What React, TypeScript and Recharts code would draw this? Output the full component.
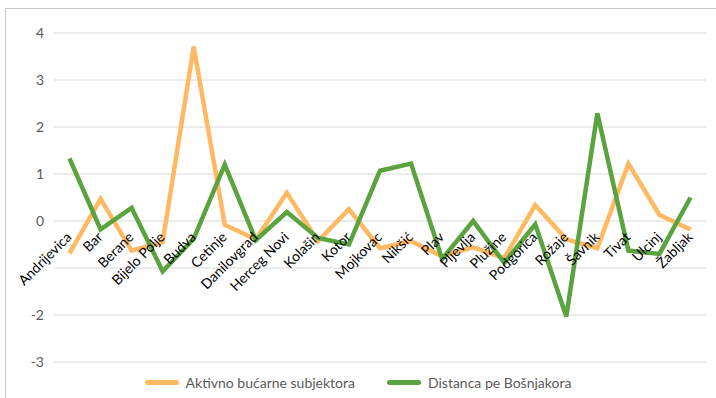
import { LineChart, Line, XAxis, YAxis, CartesianGrid } from 'recharts';

const categories = [
	'Andrijevica', 'Bar', 'Berane', 'Bijelo Polje', 'Budva', 'Cetinje', 'Danilovgrad',
	'Herceg Novi', 'Kolašin', 'Kotor', 'Mojkovac', 'Nikšić', 'Plav', 'Pljevlja',
	'Plužine', 'Podgorica', 'Rožaje', 'Šavnik', 'Tivat', 'Ulcinj', 'Žabljak',
];

const aktivno = [
	-0.69, 0.47, -0.63, -0.45, 3.71, -0.08, -0.39,
	0.6, -0.43, 0.25, -0.58, -0.43, -0.75, -0.56,
	-0.79, 0.34, -0.39, -0.58, 1.22, 0.13, -0.18,
];

const distanca = [
	1.33, -0.18, 0.28, -1.07, -0.38, 1.2, -0.41,
	0.19, -0.36, -0.5, 1.07, 1.22, -0.81, 0.0,
	-0.89, -0.07, -2.03, 2.29, -0.63, -0.7, 0.5,
];

const yTicks = [-3, -2, -1, 0, 1, 2, 3, 4];
const hiddenYLabels = [-1];

const seriesNames = ['Aktivno bućarne subjektora', 'Distanca pe Bošnjakora'];
const colors = ['#FFB963', '#5AA33E'];

const data = categories.map((name, i) => ({
	name,
	aktivno: aktivno[i],
	distanca: distanca[i],
}));

const W = 716;
const H = 398;
const margin = { top: 33, right: 10, bottom: 35, left: 0 };
const yMin = -3;
const yMax = 4;
const plotH = H - margin.top - margin.bottom - 1;
const zeroY = margin.top + (yMax / (yMax - yMin)) * plotH;

const font = 'Lato, "Open Sans", sans-serif';

const CategoryTick = (props: any) => {
	const { x, payload } = props;
	const px = x + 3;
	const py = zeroY + 17;
	return (
		<text
			x={px}
			y={py}
			transform={`rotate(-45, ${px}, ${py})`}
			textAnchor="end"
			fill="#000"
			fontSize={14}
			fontFamily={font}
		>
			{payload.value}
		</text>
	);
};

const ValueTick = (props: any) => {
	const { x, y, payload } = props;
	if (hiddenYLabels.includes(payload.value)) return <g />;
	return (
		<text x={x - 2} y={y} dy={5} textAnchor="end" fill="#595959" fontSize={14} fontFamily={font}>
			{payload.value}
		</text>
	);
};

export default function App() {
	return (
		<div style={{ position: 'fixed', left: 0, top: 0, width: W, height: H, overflow: 'hidden', background: '#fff' }}>
			<div style={{ position: 'absolute', left: 5, top: 8, width: 800, height: 500, borderLeft: '1px solid #c8c8c8', borderTop: '1px solid #c8c8c8' }} />
			<div style={{ position: 'absolute', left: 0, top: 0 }}>
				<LineChart width={W} height={H} data={data} margin={margin}>
					<CartesianGrid vertical={false} stroke="#d9d9d9" strokeWidth={1.2} />
					<YAxis
						domain={[yMin, yMax]}
						ticks={yTicks}
						width={54}
						axisLine={false}
						tickLine={false}
						tick={<ValueTick />}
						interval={0}
					/>
					<Line dataKey="aktivno" stroke={colors[0]} strokeWidth={4.5} dot={false} isAnimationActive={false} strokeLinejoin="miter" />
					<Line dataKey="distanca" stroke={colors[1]} strokeWidth={4.5} dot={false} isAnimationActive={false} strokeLinejoin="miter" />
					<XAxis
						dataKey="name"
						height={1}
						padding={{ left: 15.5, right: 15.5 }}
						axisLine={false}
						tickLine={false}
						interval={0}
						tick={<CategoryTick />}
					/>
				</LineChart>
			</div>
			<div style={{ position: 'absolute', left: 0, top: 374, width: W, display: 'flex', justifyContent: 'center', fontFamily: font, fontSize: 14, color: '#595959' }}>
				{seriesNames.map((n, i) => (
					<div key={n} style={{ display: 'flex', alignItems: 'center', margin: '0 16px' }}>
						<span style={{ display: 'inline-block', width: 34, height: 5, borderRadius: 3, background: colors[i], marginRight: 7 }} />
						<span>{n}</span>
					</div>
				))}
			</div>
		</div>
	);
}
